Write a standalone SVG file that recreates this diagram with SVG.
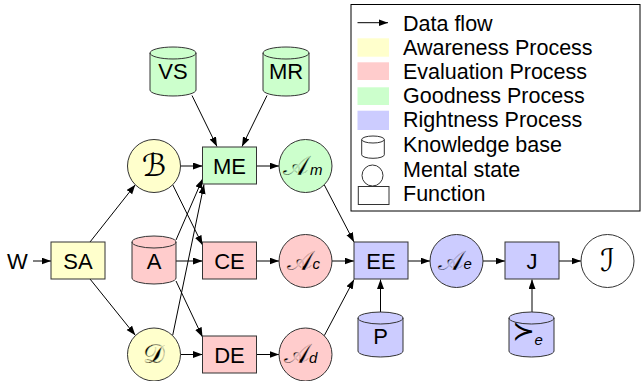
<svg xmlns="http://www.w3.org/2000/svg" width="641" height="381" viewBox="0 0 641 381">
  <style>
    .lbl { font-family: "Liberation Sans", Arial, sans-serif; font-size: 22px; fill: #000; text-anchor: middle; }
    .leg { font-family: "Liberation Sans", Arial, sans-serif; font-size: 21.5px; fill: #000; }
    .cal { font-family: "DejaVu Serif", "DejaVu Sans", serif; font-size: 27px; fill: #000; text-anchor: middle; stroke-width: 0.35px; }
    .big { font-size: 31px; }
    .sub { font-family: "Liberation Sans", Arial, sans-serif; font-style: italic; font-size: 15px; fill: #000; }
    .edge { stroke: #000; stroke-width: 1; fill: none; marker-end: url(#tip); }
    .node { stroke: #333; stroke-width: 1; }
    .aw { fill: #ffffcc; }
    .ev { fill: #ffcccc; }
    .gd { fill: #ccffcc; }
    .rt { fill: #ccccff; }
    .wh { fill: #ffffff; }
    .s-aw { stroke: #ffffcc; }
    .s-ev { stroke: #ffcccc; }
    .s-gd { stroke: #ccffcc; }
    .s-rt { stroke: #ccccff; }
  </style>
  <defs>
    <marker id="tip" markerUnits="userSpaceOnUse" markerWidth="10" markerHeight="8" refX="9.5" refY="3.5" orient="auto">
      <path d="M0,0 L9.5,3.5 L0,7 Z" fill="#000"/>
    </marker>
  </defs>

  <rect width="641" height="381" fill="#fff"/>

  <!-- legend -->
  <g id="legend">
    <rect x="351" y="4.5" width="289" height="206.5" fill="#fff" stroke="#000" stroke-width="1"/>
    <line x1="357.5" y1="22.7" x2="388" y2="22.7" class="edge"/>
    <text x="403" y="30.7" class="leg">Data flow</text>
    <rect x="357.5" y="38.3" width="31.5" height="18.4" class="aw"/>
    <text x="403" y="54.8" class="leg">Awareness Process</text>
    <rect x="357.5" y="62.3" width="31.5" height="17.7" class="ev"/>
    <text x="403" y="79" class="leg">Evaluation Process</text>
    <rect x="357.5" y="87.3" width="31.5" height="17.7" class="gd"/>
    <text x="403" y="103.2" class="leg">Goodness Process</text>
    <rect x="357.5" y="110.7" width="31.5" height="19.3" class="rt"/>
    <text x="403" y="127" class="leg">Rightness Process</text>
    <path d="M361.7,139.5 L361.7,154.8 A11.3,3.5 0 0 0 384.3,154.8 L384.3,139.5 A11.3,3.5 0 0 0 361.7,139.5 Z M361.7,139.5 A11.3,3.5 0 0 0 384.3,139.5" fill="#fff" class="node"/>
    <text x="403" y="151.5" class="leg">Knowledge base</text>
    <circle cx="372.5" cy="175.5" r="10.5" fill="#fff" class="node"/>
    <text x="403" y="176.5" class="leg">Mental state</text>
    <rect x="358.3" y="186.5" width="30.7" height="18" fill="#fff" class="node"/>
    <text x="403" y="201" class="leg">Function</text>
  </g>

  <!-- connectors -->
  <g id="connectors">
    <line x1="33" y1="261" x2="51" y2="261" class="edge"/>
    <line x1="90" y1="242" x2="135.3" y2="184.7" class="edge"/>
    <line x1="90" y1="279" x2="135.3" y2="335.3" class="edge"/>
    <line x1="180.5" y1="166" x2="202.5" y2="166" class="edge"/>
    <line x1="172.7" y1="184.7" x2="202.5" y2="245" class="edge"/>
    <line x1="176" y1="240" x2="202.5" y2="179" class="edge"/>
    <line x1="172.7" y1="335.3" x2="204" y2="184.5" class="edge"/>
    <line x1="176" y1="261" x2="202.5" y2="261" class="edge"/>
    <line x1="176" y1="281" x2="202.5" y2="337" class="edge"/>
    <line x1="180.5" y1="354.5" x2="202.5" y2="354.5" class="edge"/>
    <line x1="192" y1="95.5" x2="217" y2="146.5" class="edge"/>
    <line x1="267" y1="95.5" x2="242" y2="146.5" class="edge"/>
    <line x1="256.5" y1="166" x2="279" y2="166" class="edge"/>
    <line x1="256.5" y1="261" x2="279" y2="261" class="edge"/>
    <line x1="256.5" y1="354.5" x2="279" y2="354.5" class="edge"/>
    <line x1="324.2" y1="184.7" x2="354" y2="242" class="edge"/>
    <line x1="332" y1="261" x2="354" y2="261" class="edge"/>
    <line x1="324.2" y1="335.8" x2="354" y2="279.5" class="edge"/>
    <line x1="380.5" y1="312" x2="380.5" y2="279.5" class="edge"/>
    <line x1="408" y1="261" x2="430" y2="261" class="edge"/>
    <line x1="483" y1="261" x2="505" y2="261" class="edge"/>
    <line x1="559" y1="261" x2="581" y2="261" class="edge"/>
    <line x1="532" y1="312" x2="532" y2="279.5" class="edge"/>
  </g>

  <!-- input -->
  <g id="W"><text x="17.5" y="269" class="lbl">W</text></g>

  <!-- awareness -->
  <g id="SA">
    <rect x="51" y="242" width="54" height="37" class="node aw"/>
    <text x="78" y="268.5" class="lbl">SA</text>
  </g>
  <g id="B">
    <circle cx="154" cy="166" r="26.5" class="node aw"/>
    <text x="154" y="175.5" class="cal big">ℬ</text>
  </g>
  <g id="D">
    <circle cx="154" cy="354.5" r="26.5" class="node aw"/>
    <text x="154" y="363" class="cal s-aw">𝒟</text>
  </g>

  <!-- goodness -->
  <g id="VS">
    <path d="M150,53 L150,90 A23,6 0 0 0 196,90 L196,53 A23,6 0 0 0 150,53 Z M150,53 A23,6 0 0 0 196,53" class="node gd"/>
    <text x="173" y="79" class="lbl">VS</text>
  </g>
  <g id="MR">
    <path d="M263,53 L263,90 A23,6 0 0 0 309,90 L309,53 A23,6 0 0 0 263,53 Z M263,53 A23,6 0 0 0 309,53" class="node gd"/>
    <text x="286" y="79" class="lbl">MR</text>
  </g>
  <g id="ME">
    <rect x="202.5" y="147" width="54" height="37" class="node gd"/>
    <text x="229.5" y="173.5" class="lbl">ME</text>
  </g>
  <g id="Am">
    <circle cx="305.5" cy="166" r="26.5" class="node gd"/>
    <text x="296" y="174.5" class="cal s-gd">𝒜</text>
    <text x="310" y="175" class="sub">m</text>
  </g>

  <!-- evaluation -->
  <g id="A">
    <path d="M132,242 L132,278 A22,6 0 0 0 176,278 L176,242 A22,6 0 0 0 132,242 Z M132,242 A22,6 0 0 0 176,242" class="node ev"/>
    <text x="154" y="269" class="lbl">A</text>
  </g>
  <g id="CE">
    <rect x="202.5" y="242" width="54" height="37" class="node ev"/>
    <text x="229.5" y="268.5" class="lbl">CE</text>
  </g>
  <g id="Ac">
    <circle cx="305.5" cy="261" r="26.5" class="node ev"/>
    <text x="299.5" y="269.5" class="cal s-ev">𝒜</text>
    <text x="312.5" y="268.5" class="sub">c</text>
  </g>
  <g id="DE">
    <rect x="202.5" y="336" width="54" height="37" class="node ev"/>
    <text x="229.5" y="362.5" class="lbl">DE</text>
  </g>
  <g id="Ad">
    <circle cx="305.5" cy="354.5" r="26.5" class="node ev"/>
    <text x="296.5" y="363" class="cal s-ev">𝒜</text>
    <text x="309" y="362.5" class="sub">d</text>
  </g>

  <!-- rightness -->
  <g id="EE">
    <rect x="354" y="242" width="54" height="37" class="node rt"/>
    <text x="381" y="268.5" class="lbl">EE</text>
  </g>
  <g id="P">
    <path d="M358,318 L358,351 A22.5,6 0 0 0 403,351 L403,318 A22.5,6 0 0 0 358,318 Z M358,318 A22.5,6 0 0 0 403,318" class="node rt"/>
    <text x="380.5" y="344" class="lbl">P</text>
  </g>
  <g id="Ae">
    <circle cx="456.5" cy="261" r="26.5" class="node rt"/>
    <text x="451" y="269.5" class="cal s-rt">𝒜</text>
    <text x="463.5" y="269" class="sub">e</text>
  </g>
  <g id="J">
    <rect x="505" y="242" width="54" height="37" class="node rt"/>
    <text x="532" y="268.5" class="lbl">J</text>
  </g>
  <g id="pref">
    <path d="M509,318 L509,351 A22.5,6 0 0 0 554,351 L554,318 A22.5,6 0 0 0 509,318 Z M509,318 A22.5,6 0 0 0 554,318" class="node rt"/>
    <text x="523.5" y="340" class="cal" font-size="14">≻</text>
    <text x="534.5" y="345" class="sub">e</text>
  </g>

  <!-- result -->
  <g id="I">
    <circle cx="607.5" cy="261" r="26.5" class="node wh"/>
    <text x="607.5" y="271" class="cal big">ℐ</text>
  </g>
</svg>
